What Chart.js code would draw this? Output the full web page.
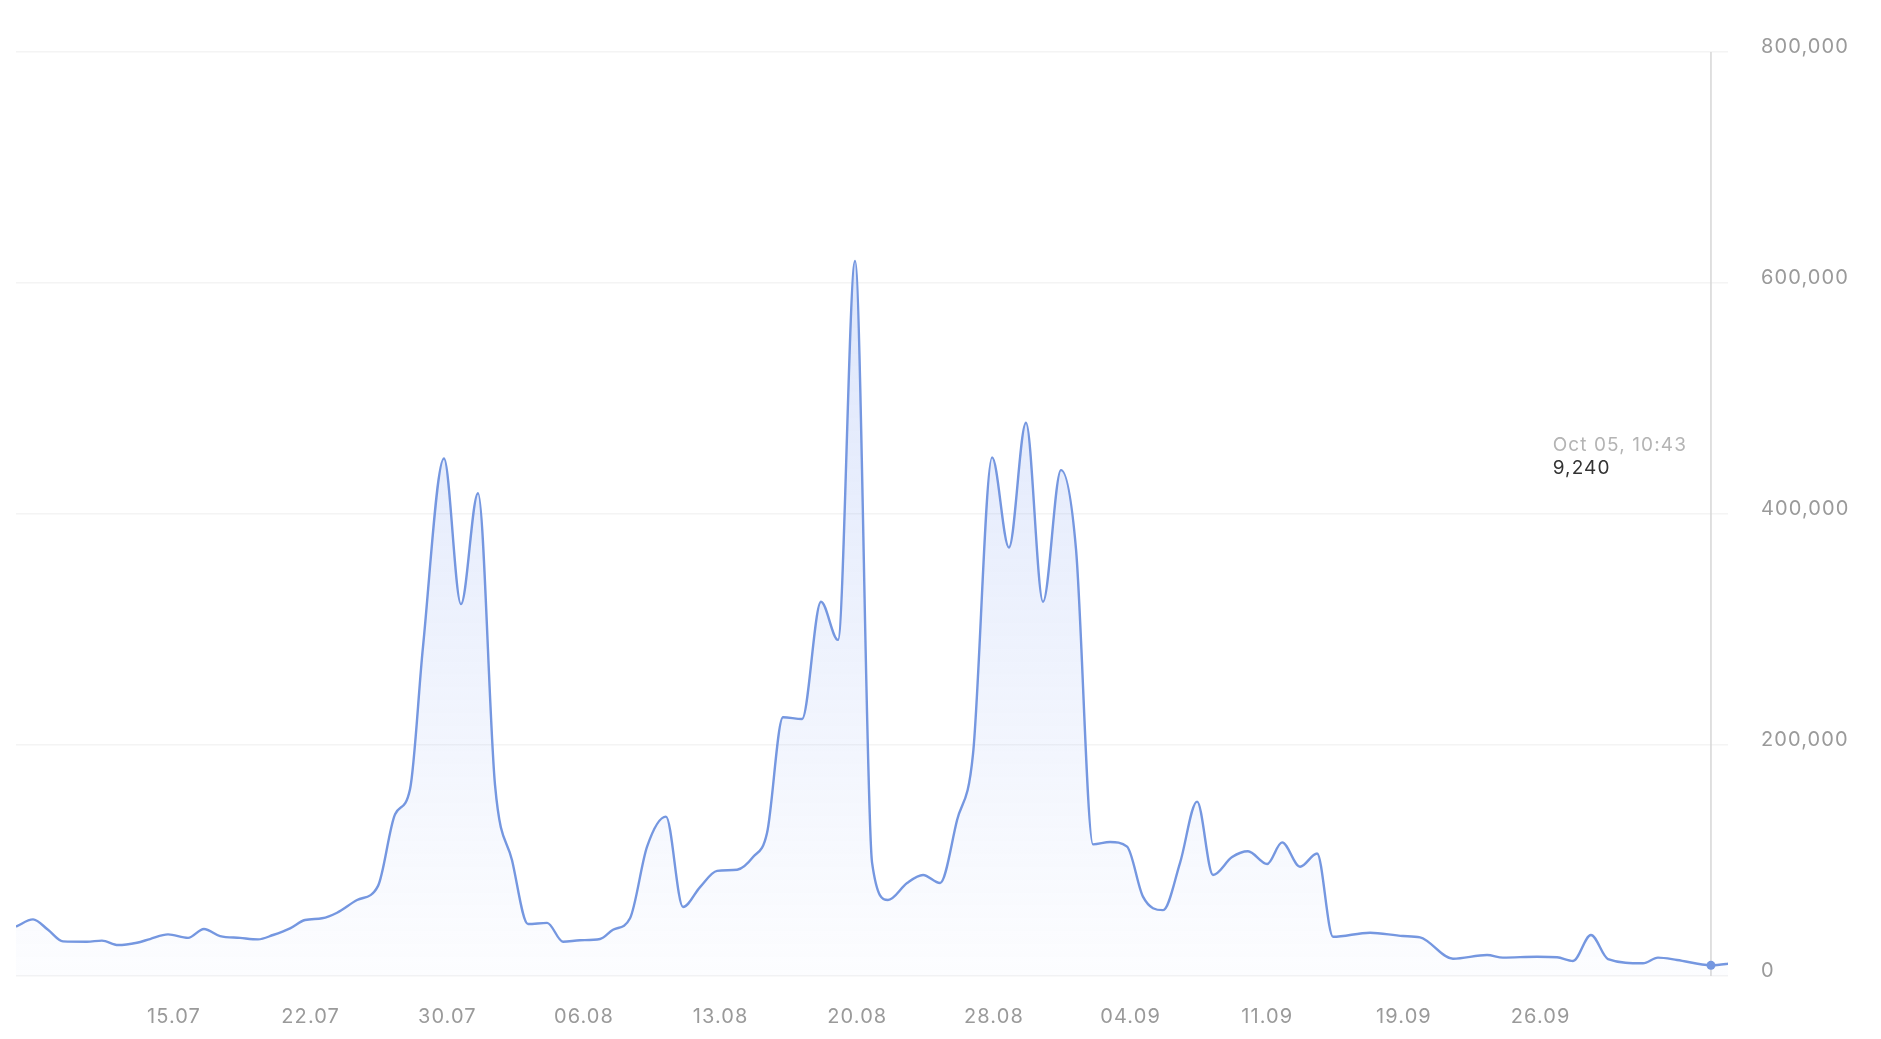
<!DOCTYPE html>
<html>
<head>
<meta charset="utf-8">
<title>Volume</title>
<script src="https://cdn.jsdelivr.net/npm/chart.js@4.4.0/dist/chart.umd.min.js"></script>
<style>
    html, body { margin: 0; padding: 0; background: #fff; }
    canvas { display: block; }
</style>
</head>
<body>
<canvas id="volumeChart" width="1881" height="1039"></canvas>
<script>
// days counted from 15.07 (0 = 15.07)
const days = [
    -8.44, -7.53, -6.73, -5.93, -4.65, -3.85, -2.99, -1.98, -1.28, -0.32,
    0.75, 1.60, 2.46, 3.53, 4.49, 5.29, 6.20, 7.00, 7.91, 8.71,
    9.78, 10.90, 11.81, 12.61, 13.30, 14.42, 15.33, 16.24, 17.15, 18.06,
    18.91, 19.93, 20.78, 21.69, 22.76, 23.45, 24.36, 25.27, 26.28, 27.19,
    28.10, 29.01, 30.08, 30.93, 31.68, 32.53, 33.55, 34.56, 35.47, 36.38,
    37.29, 38.14, 39.16, 40.01, 40.92, 41.83, 42.68, 43.70, 44.60, 45.51,
    46.42, 47.38, 48.18, 49.09, 50.00, 50.91, 51.76, 52.83, 53.74, 54.65,
    55.50, 56.52, 57.37, 58.39, 59.19, 60.15, 61.06, 61.91, 63.89, 65.65,
    66.56, 68.32, 70.14, 70.99, 72.81, 73.88, 74.73, 75.69, 76.60, 78.47,
    79.27, 80.29, 82.10, 83.30
];

const values = [
    42700, 49000, 40000, 30000, 29700, 30600, 26800, 28800, 32000, 36000,
    33000, 40700, 34600, 33000, 31700, 35500, 41300, 48500, 50000, 54800,
    65800, 78000, 140000, 162000, 285000, 448000, 322000, 418000, 165000, 100000,
    45000, 46000, 29700, 31000, 32000, 40000, 50000, 112000, 138000, 59700,
    77000, 91000, 92000, 103000, 124000, 224000, 222500, 324000, 291000, 619000,
    98000, 65800, 80500, 87500, 80500, 135000, 192000, 449000, 371000, 479000,
    324000, 438000, 370000, 114000, 116000, 112000, 68700, 57000, 98000, 151000,
    87500, 103000, 108000, 97000, 115700, 94600, 106000, 34000, 37500, 34600,
    33500, 15000, 18200, 15900, 16700, 16200, 13000, 35500, 14700, 11000,
    15900, 13900, 9240, 11200
];

const tickLabels = ['15.07', '22.07', '30.07', '06.08', '13.08', '20.08', '28.08', '04.09', '11.09', '19.09', '26.09'];
const tickStep = 7.3;
const yTicks = [0, 200000, 400000, 600000, 800000];

const hoverIndex = 92;
const hoverTitle = 'Oct 05, 10:43';

const lineColor = '#7597e0';

let volumeChart;

document.addEventListener('DOMContentLoaded', () => {
    initChart();
});

// a bit of tracking, the original font runs wider than Inter
const trackingPlugin = {
    id: 'tracking',
    beforeUpdate(chart) { chart.ctx.letterSpacing = '1.1px'; },
    beforeDraw(chart) { chart.ctx.letterSpacing = '1.1px'; }
};

// crosshair + static tooltip on the last reading
const hoverPlugin = {
    id: 'hoverPlugin',
    beforeDatasetsDraw(chart) {
        const pt = chart.getDatasetMeta(0).data[hoverIndex];
        const area = chart.chartArea;
        const ctx = chart.ctx;
        ctx.save();
        ctx.strokeStyle = '#d6d6d6';
        ctx.lineWidth = 1.5;
        ctx.beginPath();
        ctx.moveTo(pt.x, area.top);
        ctx.lineTo(pt.x, area.bottom);
        ctx.stroke();
        ctx.restore();
    },
    afterDatasetsDraw(chart) {
        const pt = chart.getDatasetMeta(0).data[hoverIndex];
        const area = chart.chartArea;
        const ctx = chart.ctx;
        ctx.save();
        ctx.font = '19px Inter';
        ctx.letterSpacing = '1.1px';
        ctx.textBaseline = 'middle';
        ctx.textAlign = 'left';
        const w = ctx.measureText(hoverTitle).width;
        const left = pt.x - 24 - w;
        const top = area.top + 393;
        ctx.fillStyle = '#b4b4b4';
        ctx.fillText(hoverTitle, left, top);
        ctx.fillStyle = '#333333';
        ctx.fillText(values[hoverIndex].toLocaleString('en-US'), left, top + 23);
        ctx.restore();
    }
};

function initChart() {
    const ctx = document.getElementById('volumeChart').getContext('2d');

    Chart.defaults.font.family = 'Inter';
    Chart.defaults.color = '#9a9a9a';

    volumeChart = new Chart(ctx, {
        type: 'line',
        data: {
            datasets: [{
                data: days.map((d, i) => ({ x: d, y: values[i] })),
                borderColor: lineColor,
                borderWidth: 2.4,
                cubicInterpolationMode: 'monotone',
                fill: 'origin',
                backgroundColor: (c) => {
                    const area = c.chart.chartArea;
                    if (!area) return 'rgba(120,155,240,0.1)';
                    const g = c.chart.ctx.createLinearGradient(0, area.top, 0, area.bottom);
                    g.addColorStop(0, 'rgba(115,150,240,0.30)');
                    g.addColorStop(1, 'rgba(115,150,240,0.02)');
                    return g;
                },
                pointRadius: (c) => c.dataIndex === hoverIndex ? 4.5 : 0,
                pointBackgroundColor: lineColor,
                pointBorderWidth: 0
            }]
        },
        options: {
            responsive: false,
            animation: false,
            events: [],
            layout: { padding: { left: 16, top: 52, right: 0, bottom: 0 } },
            plugins: { legend: { display: false }, tooltip: { enabled: false } },
            scales: {
                x: {
                    type: 'linear',
                    min: -8.44,
                    max: 83.01,
                    afterBuildTicks: (s) => { s.ticks = tickLabels.map((_, i) => ({ value: i * tickStep })); },
                    afterFit: (s) => { s.height = 63; },
                    grid: { display: false, drawTicks: false },
                    border: { display: false },
                    ticks: {
                        padding: 29,
                        font: { size: 20 },
                        maxRotation: 0,
                        autoSkip: false,
                        callback: (v, i) => tickLabels[i]
                    }
                },
                y: {
                    position: 'right',
                    min: 0,
                    max: 800000,
                    afterBuildTicks: (s) => { s.ticks = yTicks.map(v => ({ value: v })); },
                    afterFit: (s) => { s.width = 153; },
                    grid: { color: '#f4f4f4', lineWidth: 1.5, drawTicks: false },
                    border: { display: false },
                    ticks: {
                        padding: 33,
                        labelOffset: -5,
                        font: { size: 20 },
                        callback: (v) => v.toLocaleString('en-US')
                    }
                }
            }
        },
        plugins: [trackingPlugin, hoverPlugin]
    });
}
</script>
</body>
</html>
